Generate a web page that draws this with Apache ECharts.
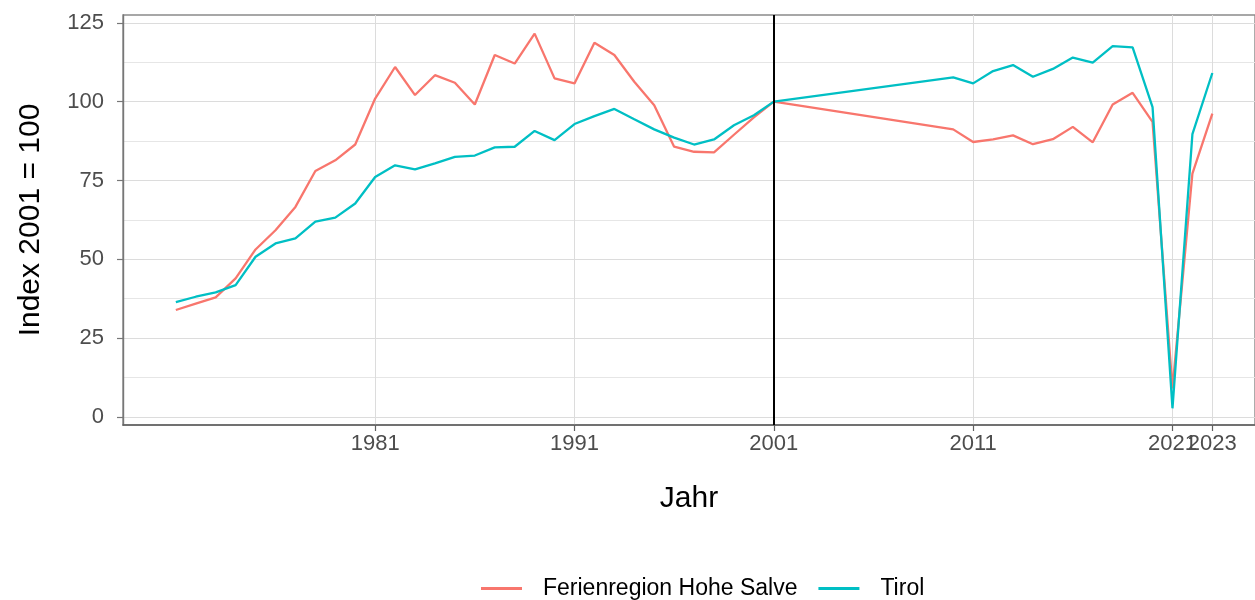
<!DOCTYPE html>
<html>
<head>
<meta charset="utf-8">
<script src="https://cdn.jsdelivr.net/npm/echarts@6/dist/echarts.min.js"></script>
<style>
html,body{margin:0;padding:0;background:#fff;}
#chart{width:1255px;height:600px;}
</style>
</head>
<body>
<div id="chart"></div>
<script>
// ---- data ----
const years = [1971,1972,1973,1974,1975,1976,1977,1978,1979,1980,
  1981,1982,1983,1984,1985,1986,1987,1988,1989,1990,
  1991,1992,1993,1994,1995,1996,1997,1998,1999,2000,
  2001,2010,2011,2012,2013,2014,2015,2016,2017,2018,
  2019,2020,2021,2022,2023];
const hoheSalve = [33.9,35.9,37.9,43.9,53.1,59.2,66.6,78.0,81.4,86.4,
  101.0,111.0,102.1,108.4,106.0,99.1,114.8,112.1,121.6,107.4,
  105.8,118.7,114.8,106.3,98.9,85.7,84.1,83.9,89.5,95.0,
  100,91.2,87.2,88.0,89.3,86.5,88.1,92.0,87.1,99.1,
  102.8,93.6,9.0,77.2,96.2];
const tirol = [36.4,38.1,39.5,41.8,50.8,55.0,56.6,61.9,63.2,67.7,
  76.1,79.8,78.5,80.4,82.5,82.9,85.5,85.7,90.7,87.8,
  92.9,95.4,97.7,94.4,91.2,88.6,86.4,88.0,92.5,95.7,
  100,107.7,105.8,109.7,111.6,107.9,110.4,114.0,112.4,117.6,
  117.2,98.3,2.7,89.7,109.1];
const seriesNames = ['Ferienregion Hohe Salve','Tirol'];
const xTicks = [1981,1991,2001,2011,2021];
const xTicksExtra = [2023];
const yTicks = [0,25,50,75,100,125];
const yMinor = [12.5,37.5,62.5,87.5,112.5];
const refYear = 2001;

const pair = (vals) => years.map((y,i) => [y, vals[i]]);

const chart = echarts.init(document.getElementById('chart'), null, {renderer:'canvas'});
const FONT = 'Liberation Sans, Arial, sans-serif';
const xLabel = {show:true, interval:0, hideOverlap:false, margin:8,
  formatter:(v)=>String(v), fontFamily:FONT, fontSize:22, color:'#4d4d4d'};
chart.setOption({
  animation:false,
  backgroundColor:'#ffffff',
  grid:{left:123, right:0, top:15, bottom:175, show:true, borderColor:'#8a8a8a', borderWidth:1.4, backgroundColor:'transparent'},
  legend:{
    show:true, left:476, top:572, orient:'horizontal',
    icon:'rect', itemWidth:41, itemHeight:3, itemGap:21,
    data:seriesNames,
    textStyle:{fontFamily:FONT, fontSize:23, color:'#000', padding:[0,0,0,16]}
  },
  xAxis:[{
    type:'value', min:1968.35, max:2025.14, position:'bottom',
    name:'Jahr', nameLocation:'middle', nameGap:59,
    nameTextStyle:{fontFamily:FONT, fontSize:30, color:'#000'},
    axisLine:{show:true, onZero:false, lineStyle:{color:'#606060', width:1.6}},
    axisTick:{show:true, length:6, interval:0, customValues:xTicks, lineStyle:{color:'#606060', width:1.2}},
    axisLabel:Object.assign({customValues:xTicks}, xLabel),
    splitLine:{show:true, lineStyle:{color:'#dcdcdc', width:1}}
  },{
    type:'value', min:1968.35, max:2025.14, position:'bottom', offset:0,
    axisLine:{show:false, onZero:false},
    axisTick:{show:true, length:6, interval:0, customValues:xTicksExtra, lineStyle:{color:'#606060', width:1.2}},
    axisLabel:Object.assign({customValues:xTicksExtra}, xLabel),
    splitLine:{show:true, lineStyle:{color:'#dcdcdc', width:1}}
  }],
  yAxis:[{
    type:'value', min:-2.6, max:127.5,
    name:'Index 2001 = 100', nameLocation:'middle', nameGap:77, nameRotate:90,
    nameTextStyle:{fontFamily:FONT, fontSize:30, color:'#000'},
    axisLine:{show:true, onZero:false, lineStyle:{color:'#777', width:1.4}},
    axisTick:{show:true, length:6, customValues:yTicks, lineStyle:{color:'#777', width:1.2}},
    axisLabel:{show:true, customValues:yTicks, margin:19, formatter:(v)=>String(v),
      fontFamily:FONT, fontSize:22, color:'#4d4d4d'},
    splitLine:{show:true, lineStyle:{color:'#dcdcdc', width:1}}
  },{
    type:'value', min:-2.6, max:127.5, position:'left',
    axisLine:{show:false}, axisLabel:{show:false},
    axisTick:{show:false, customValues:yMinor},
    splitLine:{show:true, lineStyle:{color:'#e6e6e6', width:1}}
  }],
  series:[{
    name:seriesNames[0], type:'line', data:pair(hoheSalve),
    showSymbol:false, symbol:'none', color:'#F8766D',
    lineStyle:{width:2.3, color:'#F8766D'},
    markLine:{silent:true, symbol:['none','none'], label:{show:false},
      lineStyle:{color:'#000', width:2, type:'solid'},
      data:[{xAxis:refYear}]}
  },{
    name:seriesNames[1], type:'line', data:pair(tirol),
    showSymbol:false, symbol:'none', color:'#00BFC4',
    lineStyle:{width:2.3, color:'#00BFC4'}
  }]
});
</script>
</body>
</html>
